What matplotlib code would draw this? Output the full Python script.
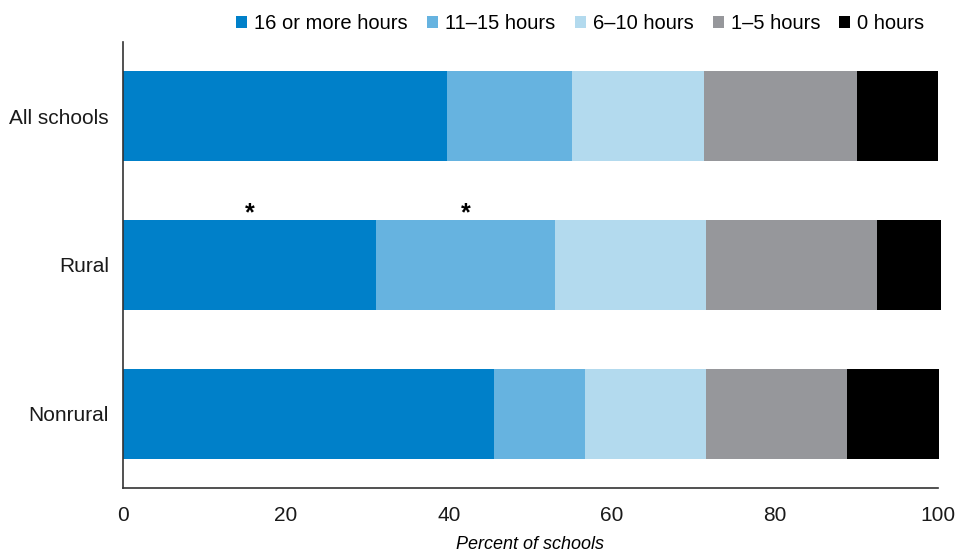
import matplotlib.pyplot as plt

# === DONNÉES ===
groups = ["All schools", "Rural", "Nonrural"]
series = ["16 or more hours", "11\u201315 hours", "6\u201310 hours", "1\u20135 hours", "0 hours"]
h16_plus = [39.8, 31.0, 45.5]
h11_15 = [15.3, 22.0, 11.2]
h6_10 = [16.2, 18.5, 14.8]
h1_5 = [18.8, 21.0, 17.3]
h0 = [9.9, 7.9, 11.3]
colors = ["#0080C9", "#66B3E0", "#B3DAEE", "#96979B", "#000000"]

# astérisques : (groupe, série)
stars = [(1, 0), (1, 1)]

plt.rcParams['font.family'] = ['Liberation Sans', 'DejaVu Sans']

fig = plt.figure(figsize=(9.57, 5.52), dpi=100)
ax = fig.add_axes([123 / 957, 1 - 488 / 552, (938 - 123) / 957, (488 - 42) / 552])

values = [h16_plus, h11_15, h6_10, h1_5, h0]
y = list(range(len(groups)))
left = [0.0] * len(groups)
for vals, name, col in zip(values, series, colors):
    ax.barh(y, vals, left=left, height=0.604, color=col, label=name, clip_on=False)
    left = [l + v for l, v in zip(left, vals)]

for gi, si in stars:
    start = sum(values[k][gi] for k in range(si))
    ax.text(start + values[si][gi] / 2, gi - 0.302 + 0.035, "*", ha='center', va='bottom',
            fontsize=18, fontweight='bold')

ax.set_xlim(0, 100)
ax.set_ylim(2.5, -0.5)
ax.set_yticks(y)
ax.set_yticklabels(groups, fontsize=15)
ax.set_xticks([0, 20, 40, 60, 80, 100])
ax.tick_params(axis='both', length=0, labelsize=15, colors='#1a1a1a')
ax.tick_params(axis='x', pad=13)
ax.tick_params(axis='y', pad=10)
for s in ['top', 'right']:
    ax.spines[s].set_visible(False)
for s in ['left', 'bottom']:
    ax.spines[s].set_color('#333333')
    ax.spines[s].set_linewidth(1.2)
ax.set_xlabel("Percent of schools", fontsize=13, style='italic', labelpad=8)

fig.legend(loc='upper right', bbox_to_anchor=(0.985, 1.007), ncol=5, frameon=False,
           fontsize=14.5, handlelength=0.55, handleheight=0.55, handletextpad=0.35,
           columnspacing=0.95)

fig.savefig("out.png", dpi=100)
